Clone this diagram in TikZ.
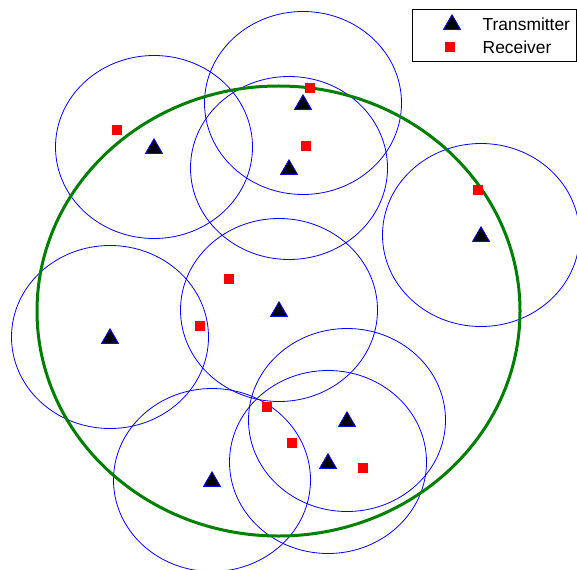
\documentclass[tikz,border=0pt]{standalone}
\usepackage{fontspec}
\setmainfont{Liberation Sans}
\usetikzlibrary{shapes.geometric}
\tikzset{
  txmark/.style={regular polygon, regular polygon sides=3, draw=blue, fill=black,
    inner sep=0pt, minimum size=19.5pt, line width=0.8pt, yshift=-1.5pt},
  rxmark/.style={rectangle, fill=red, inner sep=0pt, minimum size=10pt},
  cell/.style={draw=blue, line width=0.8pt},
}
\begin{document}
\begin{tikzpicture}[x=1pt, y=-1pt, every node/.style={font=\fontsize{17.4}{20}\selectfont}]
\useasboundingbox (0,0) rectangle (577,569);
% cell centres
\coordinate (c1) at (154,147);
\coordinate (c2) at (303,103);
\coordinate (c3) at (289,168);
\coordinate (c4) at (481,235);
\coordinate (c5) at (110,337);
\coordinate (c6) at (279,310);
\coordinate (c7) at (347,420);
\coordinate (c8) at (328,462);
\coordinate (c9) at (212,480);
\coordinate (area) at (278.5,311);
% coverage circles
\draw[cell] (c1) ellipse [x radius=98.5, y radius=91.5];
\draw[cell] (c2) ellipse [x radius=98.5, y radius=91.5];
\draw[cell] (c3) ellipse [x radius=98.5, y radius=91.5];
\draw[cell] (c4) ellipse [x radius=98.5, y radius=91.5];
\draw[cell] (c5) ellipse [x radius=98.5, y radius=91.5];
\draw[cell] (c6) ellipse [x radius=98.5, y radius=91.5];
\draw[cell] (c7) ellipse [x radius=98.5, y radius=91.5];
\draw[cell] (c8) ellipse [x radius=98.5, y radius=91.5];
\draw[cell] (c9) ellipse [x radius=98.5, y radius=91.5];
\draw[green!50!black, line width=3pt] (area) ellipse [x radius=241.5, y radius=225];
% transmitters
\node[txmark] (t1) at (c1) {};
\node[txmark] (t2) at (c2) {};
\node[txmark] (t3) at (c3) {};
\node[txmark] (t4) at (c4) {};
\node[txmark] (t5) at (c5) {};
\node[txmark] (t6) at (c6) {};
\node[txmark] (t7) at (c7) {};
\node[txmark] (t8) at (c8) {};
\node[txmark] (t9) at (c9) {};
% receivers
\node[rxmark] (r1) at (117,130) {};
\node[rxmark] (r2) at (310,88) {};
\node[rxmark] (r3) at (306,146) {};
\node[rxmark] (r4) at (478,190) {};
\node[rxmark] (r5) at (229,279) {};
\node[rxmark] (r6) at (200,326) {};
\node[rxmark] (r7) at (267,407) {};
\node[rxmark] (r8) at (292,443) {};
\node[rxmark] (r9) at (363,468) {};
% legend
\node[draw, fill=white, line width=0.8pt, anchor=north west, minimum width=164pt,
  minimum height=52pt, inner sep=0pt] (legend) at (412,9) {};
\node[txmark] (ltx) at (452,23) {};
\node[rxmark] (lrx) at (450,47) {};
\node[anchor=base west, inner sep=0pt] (ltxt) at (482.5,31) {Transmitter};
\node[anchor=base west, inner sep=0pt] (lrxt) at (482.5,53.5) {Receiver};
\end{tikzpicture}
\end{document}
